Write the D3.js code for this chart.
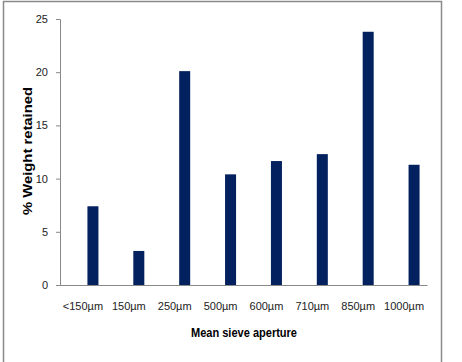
<!DOCTYPE html>
<html>

<head>
    <meta charset="utf-8">
    <script src="https://d3js.org/d3.v7.min.js"></script>
    <style type="text/css">
        body { margin: 0; background: white; }
        .tick-label { font-family: "Liberation Sans", sans-serif; font-size: 11px; fill: #222; }
        .title { font-family: "Liberation Sans", sans-serif; font-size: 12px; font-weight: bold; fill: #000; }
    </style>
</head>

<body>
    <div id="chart"></div>
    <script>
        // data
        const categories = ["<150µm", "150µm", "250µm", "500µm", "600µm", "710µm", "850µm", "1000µm"];
        const weights = [7.4, 3.2, 20.1, 10.4, 11.65, 12.3, 23.8, 11.3];
        const yTicks = [0, 5, 10, 15, 20, 25];

        const width = 462, height = 362;

        const svg = d3.select("#chart")
            .append("svg")
            .attr("width", width)
            .attr("height", height);

        // chart frame
        svg.append("rect")
            .attr("x", 3.5).attr("y", 1.5)
            .attr("width", 438).attr("height", 380)
            .attr("fill", "none")
            .attr("stroke", "#8a8a8a")
            .attr("stroke-width", 1.5);

        const y = d3.scaleLinear().domain([0, 25]).range([285, 19]);

        // category axis (labels) and a slightly shifted band scale for the bars
        const x = d3.scaleBand().domain(categories).range([60, 427]);
        const xBar = d3.scaleBand().domain(categories).range([70, 437]).paddingInner(0.76).paddingOuter(0.38);

        // y axis
        const yAxis = svg.append("g")
            .attr("transform", "translate(60,0)")
            .call(d3.axisLeft(y).tickValues(yTicks).tickSize(4).tickPadding(8));
        yAxis.select(".domain").attr("stroke", "#888");
        yAxis.selectAll(".tick line").attr("stroke", "#888");
        yAxis.selectAll(".tick text").attr("class", "tick-label").attr("font-size", null).attr("font-family", null);

        // x axis
        const xAxis = svg.append("g")
            .attr("transform", "translate(0,285)")
            .call(d3.axisBottom(x).tickSize(0).tickPadding(17).tickSizeOuter(0));
        xAxis.select(".domain").attr("stroke", "#888");
        xAxis.selectAll(".tick text").attr("class", "tick-label").attr("font-size", null).attr("font-family", null);

        // bars
        svg.selectAll(".bar")
            .data(weights)
            .join("rect")
            .attr("class", "bar")
            .attr("x", (d, i) => xBar(categories[i]))
            .attr("width", xBar.bandwidth())
            .attr("y", d => y(d))
            .attr("height", d => y(0) - y(d))
            .attr("fill", "#03215f");

        // axis titles
        svg.append("text")
            .attr("class", "title")
            .attr("text-anchor", "middle")
            .attr("x", 244)
            .attr("y", 337)
            .attr("textLength", 106)
            .attr("lengthAdjust", "spacingAndGlyphs")
            .text("Mean sieve aperture");

        svg.append("text")
            .attr("class", "title")
            .attr("text-anchor", "middle")
            .attr("transform", "translate(32,151) rotate(-90)")
            .attr("font-size", "13px")
            .style("font-size", "13px")
            .attr("textLength", 128)
            .attr("lengthAdjust", "spacingAndGlyphs")
            .text("% Weight retained");
    </script>
</body>

</html>
